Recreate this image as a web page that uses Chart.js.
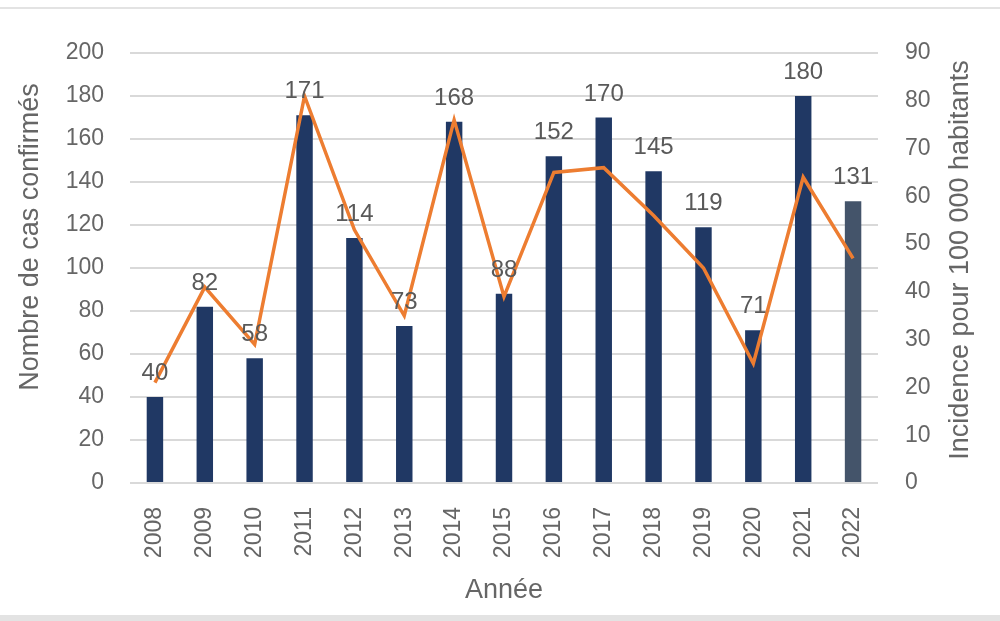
<!DOCTYPE html>
<html>
<head>
    <title>Cas confirmés</title>
    <style>
        body { margin: 0; background: #fff; }
        #wrap { width: 1000px; height: 621px; }
    </style>
</head>
<body>
    <div id="wrap"><canvas id="myChart"></canvas></div>
</body>
<script src="https://cdn.jsdelivr.net/npm/chart.js"></script>
<script>
    // data
    const years = ['2008','2009','2010','2011','2012','2013','2014','2015','2016','2017','2018','2019','2020','2021','2022'];
    const casConfirmes = [40, 82, 58, 171, 114, 73, 168, 88, 152, 170, 145, 119, 71, 180, 131];
    const incidence = [21, 41, 29, 81, 53, 35, 76, 39, 65, 66, 56, 45, 25, 64, 47];
    const leftTicks = [0, 200, 20];
    const rightTicks = [0, 90, 10];

    const fontFamily = "'Liberation Sans', Arial, sans-serif";
    const grey = '#666666';
    const barColors = years.map(y => y === '2022' ? '#44546A' : '#203864');

    // values above each bar
    const barLabels = {
        id: 'barLabels',
        afterDatasetsDraw(chart){
            const ctx = chart.ctx;
            const meta = chart.getDatasetMeta(0);
            ctx.save();
            ctx.font = '24px ' + fontFamily;
            ctx.fillStyle = '#595959';
            ctx.textAlign = 'center';
            ctx.textBaseline = 'alphabetic';
            meta.data.forEach((bar, i) => {
                ctx.fillText(casConfirmes[i], bar.x, bar.y - 17);
            });
            ctx.restore();
        }
    };

    // both axis titles read bottom to top, plus the frame lines
    function sideTitle(ctx, text, x, y){
        ctx.save();
        ctx.translate(x, y);
        ctx.rotate(-Math.PI / 2);
        ctx.font = '27px ' + fontFamily;
        ctx.fillStyle = grey;
        ctx.textAlign = 'center';
        ctx.textBaseline = 'middle';
        ctx.fillText(text, 0, 0);
        ctx.restore();
    }
    const extras = {
        id: 'extras',
        afterDraw(chart){
            const ctx = chart.ctx;
            const a = chart.chartArea;
            ctx.save();
            ctx.fillStyle = '#e3e3e3';
            ctx.fillRect(0, 7, chart.width, 2);
            ctx.fillRect(0, 615, chart.width, 6);
            ctx.restore();
            sideTitle(ctx, 'Nombre de cas confirmés', 31, (a.top + a.bottom) / 2 - 31);
            sideTitle(ctx, 'Incidence pour 100 000 habitants', 961, (a.top + a.bottom) / 2 - 8);
        }
    };

    const data = {
        labels: years,
        datasets: [{
            type: 'bar',
            label: 'Nombre de cas confirmés',
            data: casConfirmes,
            backgroundColor: barColors,
            yAxisID: 'y',
            barPercentage: 0.33,
            categoryPercentage: 1,
            order: 1
        }, {
            type: 'line',
            label: 'Incidence pour 100 000 habitants',
            data: incidence,
            borderColor: '#ED7D31',
            borderWidth: 3.5,
            pointRadius: 0,
            tension: 0,
            yAxisID: 'y1',
            order: 0
        }]
    };

    const config = {
        data,
        plugins: [barLabels, extras],
        options: {
            responsive: false,
            animation: false,
            layout: { padding: { top: 53, left: 0, right: 0, bottom: 0 } },
            plugins: { legend: { display: false }, tooltip: { enabled: false } },
            scales: {
                x: {
                    grid: { display: false },
                    border: { display: false },
                    ticks: {
                        color: grey, font: { family: fontFamily, size: 23 },
                        minRotation: 90, maxRotation: 90, padding: 16
                    },
                    title: {
                        display: true, text: 'Année', color: grey,
                        font: { family: fontFamily, size: 27 },
                        padding: { top: 0, bottom: 14 }
                    },
                    afterFit: s => { s.height = 138; }
                },
                y: {
                    position: 'left',
                    min: leftTicks[0], max: leftTicks[1],
                    grid: { color: '#D9D9D9', lineWidth: 2, drawTicks: false },
                    border: { display: false },
                    ticks: {
                        stepSize: leftTicks[2], color: grey,
                        font: { family: fontFamily, size: 23 }, padding: 26
                    },
                    afterFit: s => { s.width = 130; }
                },
                y1: {
                    position: 'right',
                    min: rightTicks[0], max: rightTicks[1],
                    grid: { display: false, drawTicks: false },
                    border: { display: false },
                    ticks: {
                        stepSize: rightTicks[2], color: grey,
                        font: { family: fontFamily, size: 23 }, padding: 27
                    },
                    afterFit: s => { s.width = 122; }
                }
            }
        }
    };

    const canvas = document.getElementById('myChart');
    canvas.width = 1000;
    canvas.height = 621;
    let myChart = new Chart(canvas, config);
</script>
</html>
